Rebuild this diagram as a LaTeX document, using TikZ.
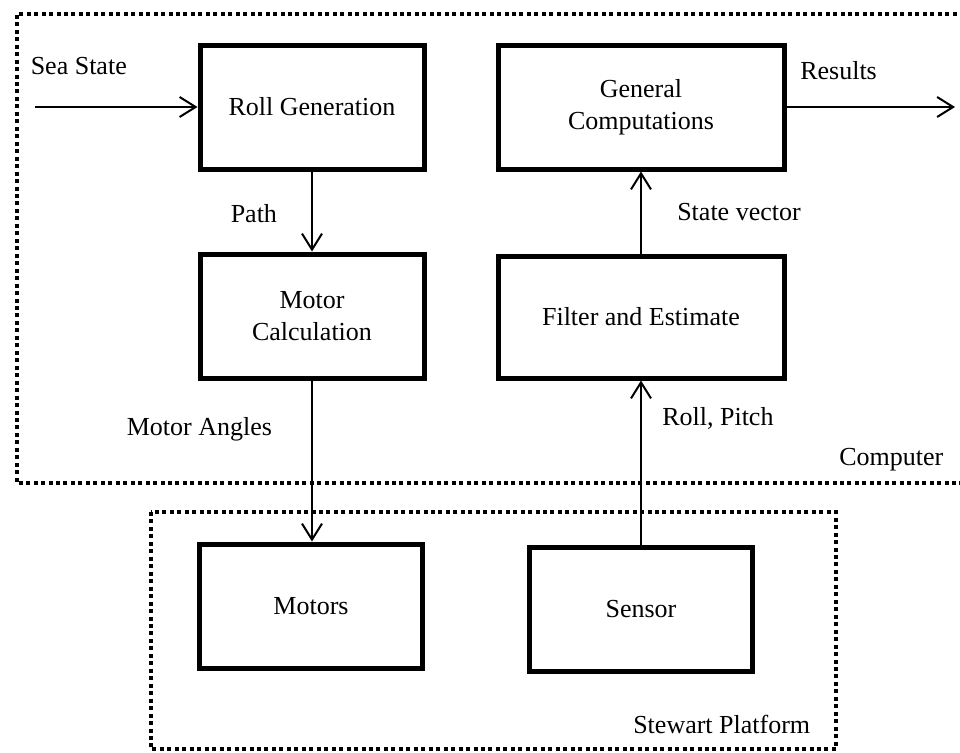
\documentclass[tikz,border=0pt]{standalone}
\usepackage{fontspec}
\setmainfont{Liberation Serif}
\usetikzlibrary{arrows.meta}
\begin{document}
\begin{tikzpicture}[x=0.75pt,y=-0.75pt,
  blk/.style={draw,line width=3.75pt,align=center,inner sep=0pt,font=\fontsize{19.5}{24}\selectfont},
  lbl/.style={inner sep=0pt,font=\fontsize{19.5}{24}\selectfont},
  conn/.style={line width=1.5pt,-{Straight Barb[length=12pt,width=15pt]}},
  grp/.style={line width=3pt,dash pattern=on 3pt off 2.6pt}]
\useasboundingbox (0,0) rectangle (960,753);
% group frames
\draw[grp] (964,14) -- (16.5,14) -- (16.5,483) -- (964,483);
\draw[grp] (150.5,512) rectangle (836,749);
% blocks
\node[blk,minimum width=168pt,minimum height=93pt] (rg) at (312,107) {Roll Generation};
\node[blk,minimum width=214.5pt,minimum height=93pt] (gc) at (641,107) {General\\Computations};
\node[blk,minimum width=168pt,minimum height=93pt] (mc) at (312,316) {Motor\\Calculation};
\node[blk,minimum width=214.5pt,minimum height=91.5pt] (fe) at (641,317) {Filter and Estimate};
\node[blk,minimum width=167.25pt,minimum height=93pt] (mo) at (311,606) {Motors};
\node[blk,minimum width=167.25pt,minimum height=93pt] (se) at (641,609) {Sensor};
% free ends
\coordinate (in) at (35,107);
\coordinate (out) at (955,107);
% connectors
\draw[conn] (in) -- (rg.west);
\draw[conn] (gc.east) -- (out);
\draw[conn] (rg.south) -- (mc.north);
\draw[conn] (mc.south) -- (mc.south |- mo.north);
\draw[conn] (se.north) -- (se.north |- fe.south);
\draw[conn] (fe.north) -- (fe.north |- gc.south);
% labels
\node[lbl,anchor=base west] (l1) at (30.5,74) {Sea State};
\node[lbl,anchor=base west] (l2) at (230.5,222) {Path};
\node[lbl,anchor=base west] (l3) at (800,79) {Results};
\node[lbl,anchor=base west] (l4) at (677,220) {State vector};
\node[lbl,anchor=base west] (l5) at (126.5,435) {Motor Angles};
\node[lbl,anchor=base west] (l6) at (662,425) {Roll, Pitch};
\node[lbl,anchor=base west] (l7) at (839,465) {Computer};
\node[lbl,anchor=base west] (l8) at (633,733) {Stewart Platform};
\end{tikzpicture}
\end{document}
